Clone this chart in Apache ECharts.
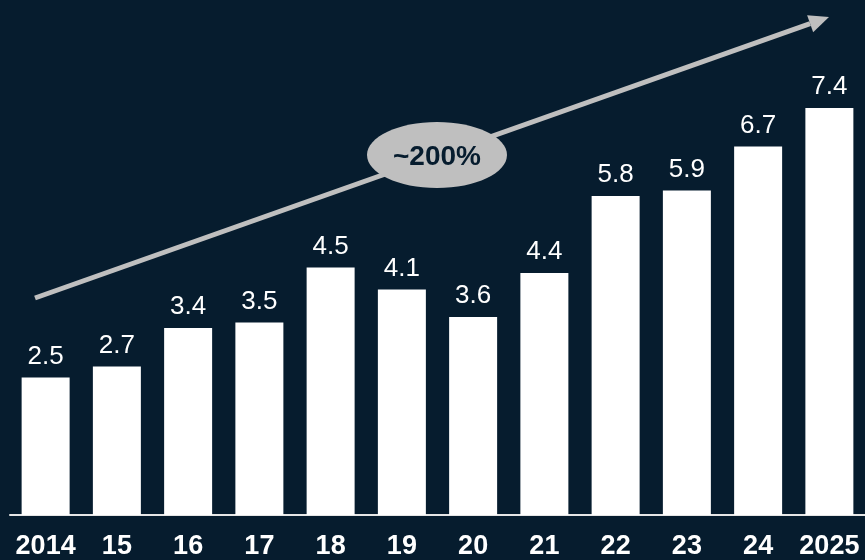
<!DOCTYPE html>
<html><head><meta charset="utf-8">
<script src="https://cdn.jsdelivr.net/npm/echarts@6/dist/echarts.min.js"></script>
<style>html,body{margin:0;padding:0;background:#061c2e}#c{width:865px;height:560px}</style>
</head><body><div id="c"></div>
<script>
var categories = ['2014','15','16','17','18','19','20','21','22','23','24','2025'];
var values = [2.5, 2.7, 3.4, 3.5, 4.5, 4.1, 3.6, 4.4, 5.8, 5.9, 6.7, 7.4];
var growthLabel = '~200%';

var chart = echarts.init(document.getElementById('c'));
var font = '"Liberation Sans", Arial, sans-serif';
var x0 = 35, y0 = 298, x1 = 829, y1 = 17;
var ang = Math.atan2(y1 - y0, x1 - x0);
var hl = 20, hw = 9;
var bx = x1 - hl * Math.cos(ang), by = y1 - hl * Math.sin(ang);
var px = -Math.sin(ang), py = Math.cos(ang);
chart.setOption({
  backgroundColor: '#061c2e',
  animation: false,
  grid: {left: 10, right: 0, top: 20, bottom: 42},
  xAxis: {
    type: 'category', data: categories,
    axisLine: {lineStyle: {color: '#e6e6e6', width: 2}},
    axisTick: {show: false},
    axisLabel: {color: '#ffffff', fontFamily: font, fontWeight: 'bold', fontSize: 27, margin: 18, interval: 0}
  },
  yAxis: {type: 'value', min: 0, max: 9, show: false, splitLine: {show: false}},
  series: [{
    type: 'bar', data: values, barWidth: 48,
    itemStyle: {color: '#ffffff'},
    label: {show: true, position: 'top', distance: 8, color: '#ffffff', fontFamily: font, fontSize: 26,
      formatter: function(p){ return p.value.toFixed(1); }}
  }],
  graphic: [
    {type: 'line', z: 10, shape: {x1: x0, y1: y0, x2: bx, y2: by}, style: {stroke: '#bfbfbf', lineWidth: 5}},
    {type: 'polygon', z: 10, shape: {points: [[x1, y1], [bx + px * hw, by + py * hw], [bx - px * hw, by - py * hw]]}, style: {fill: '#bfbfbf'}},
    {type: 'ellipse', z: 11, shape: {cx: 437, cy: 155, rx: 70, ry: 33}, style: {fill: '#bfbfbf'}},
    {type: 'text', z: 12, x: 437, y: 157, style: {text: growthLabel, fill: '#061c2e', font: 'bold 28px ' + font, align: 'center', verticalAlign: 'middle'}}
  ]
});
</script></body></html>
